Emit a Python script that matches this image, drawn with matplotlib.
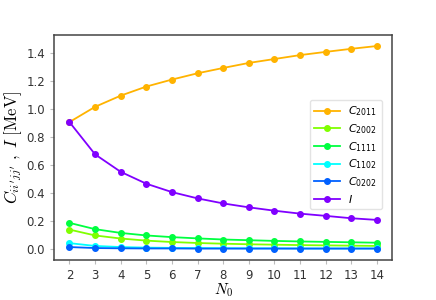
import numpy as np
import matplotlib
matplotlib.use("Agg")
import matplotlib.pyplot as plt
from matplotlib.ticker import FormatStrFormatter

# N0 values
n0 = [2, 3, 4, 5, 6, 7, 8, 9, 10, 11, 12, 13, 14]

# coefficients (MeV)
c2011 = [0.906, 1.015, 1.095, 1.160, 1.210, 1.255, 1.293, 1.329, 1.357, 1.385, 1.408, 1.430, 1.450]
c2002 = [0.137, 0.095, 0.073, 0.058, 0.048, 0.041, 0.036, 0.032, 0.029, 0.026, 0.024, 0.022, 0.020]
c1111 = [0.185, 0.140, 0.113, 0.095, 0.083, 0.074, 0.066, 0.061, 0.056, 0.052, 0.049, 0.046, 0.043]
c1102 = [0.040, 0.020, 0.012, 0.008, 0.006, 0.005, 0.004, 0.003, 0.003, 0.002, 0.002, 0.002, 0.002]
c0202 = [0.012, 0.005, 0.003, 0.002, 0.002, 0.001, 0.001, 0.001, 0.001, 0.001, 0.001, 0.001, 0.001]
i_val = [0.906, 0.675, 0.550, 0.465, 0.405, 0.360, 0.324, 0.296, 0.272, 0.251, 0.235, 0.218, 0.206]

series = [
    (c2011, r"$C_{2011}$", "#FFB300"),
    (c2002, r"$C_{2002}$", "#80FF00"),
    (c1111, r"$C_{1111}$", "#00FF40"),
    (c1102, r"$C_{1102}$", "#00FFFF"),
    (c0202, r"$C_{0202}$", "#0060FF"),
    (i_val, r"$I$", "#8000FF"),
]

plt.rcParams["font.family"] = ["DejaVu Sans"]

fig, ax = plt.subplots(figsize=(4.36, 3.0), dpi=100)
fig.subplots_adjust(left=0.124, right=0.9, top=0.883, bottom=0.135)

for vals, lab, col in series:
    ax.plot(n0, vals, "-o", color=col, label=lab, markersize=4, linewidth=1.3)

ax.set_xticks(n0)
ax.yaxis.set_major_formatter(FormatStrFormatter("%.1f"))
ax.set_ylim(-0.077, 1.528)
ax.set_xlim(1.4, 14.6)
ax.tick_params(labelsize=8.5, colors="#333333", length=3)
ax.tick_params(axis="both", color="#bbbbbb")
for sp in ax.spines.values():
    sp.set_color("#444444")
    sp.set_linewidth(1.1)

ax.set_xlabel(r"$N_0$", fontsize=11, math_fontfamily="cm", labelpad=0)
ax.set_ylabel(r"$C_{ii'jj'}\ ,\ I\ \mathrm{[MeV]}$", fontsize=12, math_fontfamily="cm", labelpad=2)

leg = ax.legend(loc="upper right", bbox_to_anchor=(0.985, 0.735), fontsize=8,
                handlelength=2.3, labelspacing=0.35, borderpad=0.4, framealpha=0.8)
leg.get_frame().set_edgecolor("#dddddd")

fig.savefig("out.png", dpi=100)
